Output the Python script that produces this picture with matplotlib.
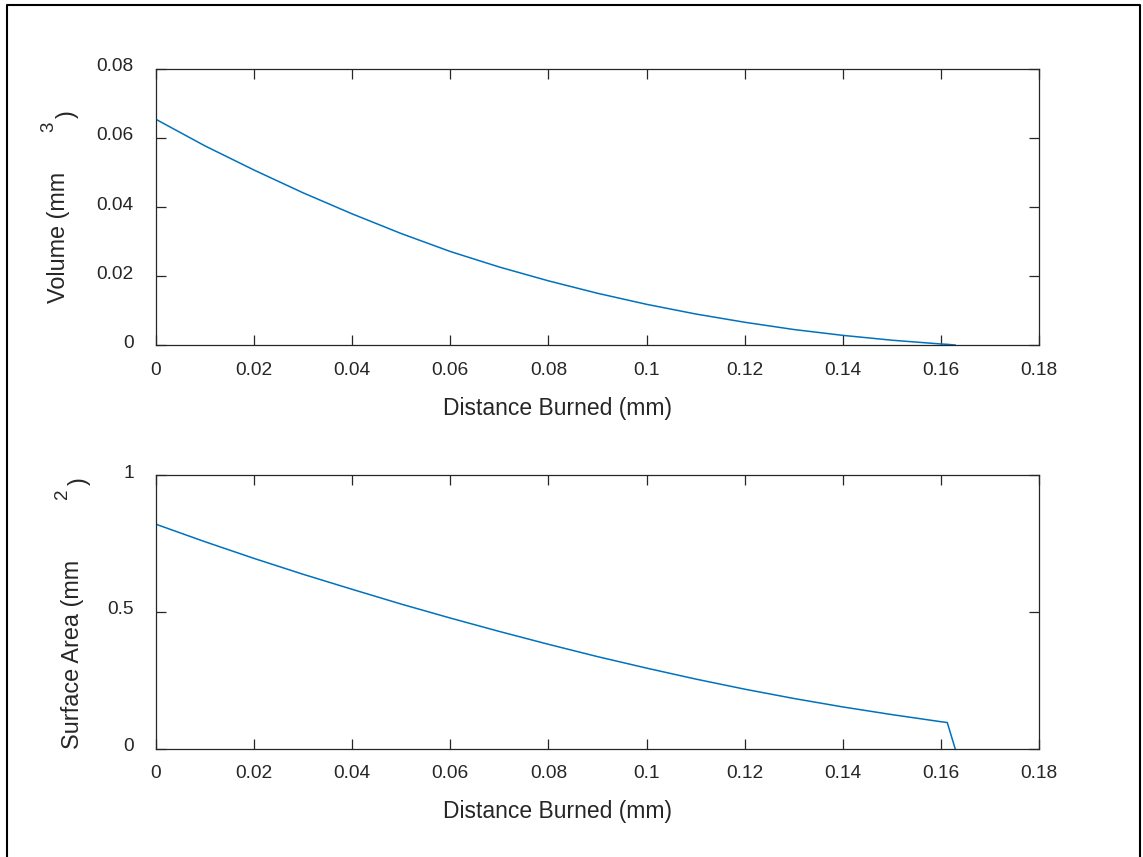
import matplotlib
matplotlib.use("Agg")
from matplotlib import pyplot as plt
from matplotlib.lines import Line2D
from matplotlib.transforms import ScaledTranslation

W, H = 1143, 857
TEXT_COLOR = "#262626"
LINE_COLOR = "#0072BD"

distance = [0.0, 0.01, 0.02, 0.03, 0.04, 0.05, 0.06, 0.07, 0.08, 0.09,
            0.10, 0.11, 0.12, 0.13, 0.14, 0.15, 0.16, 0.1613, 0.1629]
volume = [0.0654, 0.0577, 0.0507, 0.0441, 0.0380, 0.0323, 0.0271, 0.0226, 0.0186, 0.0150,
          0.0118, 0.0090, 0.0066, 0.0045, 0.0028, 0.0014, 0.0003, 0.0002, 0.0]
surface = [0.820, 0.756, 0.695, 0.637, 0.582, 0.528, 0.477, 0.428, 0.381, 0.336,
           0.294, 0.254, 0.217, 0.183, 0.152, 0.124, 0.098, 0.095, 0.0]

x_ticks = [0, 0.02, 0.04, 0.06, 0.08, 0.1, 0.12, 0.14, 0.16, 0.18]
x_tick_labels = ["0", "0.02", "0.04", "0.06", "0.08", "0.1", "0.12", "0.14", "0.16", "0.18"]
vol_ticks = [0, 0.02, 0.04, 0.06, 0.08]
vol_tick_labels = ["0", "0.02", "0.04", "0.06", "0.08"]
area_ticks = [0, 0.5, 1]
area_tick_labels = ["0", "0.5", "1"]

plt.rcParams["font.family"] = ["Liberation Sans", "DejaVu Sans"]


def px(x, y):
    # pixel position (from top-left) -> figure fraction
    return x / W, 1 - y / H


def styleAxes(ax, yticks, ylabels, ylim):
    ax.set_xlim(0, 0.18)
    ax.set_ylim(*ylim)
    ax.set_xticks(x_ticks, x_tick_labels)
    ax.set_yticks(yticks, ylabels)
    ax.tick_params(direction="in", length=7.5, width=0.9, color=TEXT_COLOR,
                   labelcolor=TEXT_COLOR, labelsize=13.8,
                   top=True, right=True)
    ax.tick_params(axis="x", pad=12)
    ax.tick_params(axis="y", pad=16)
    for sp in ax.spines.values():
        sp.set_color(TEXT_COLOR)
        sp.set_linewidth(0.9)
    shift = ScaledTranslation(0, 0.04, fig.dpi_scale_trans)
    for lab in ax.get_yticklabels():
        lab.set_transform(lab.get_transform() + shift)
    ax.set_xlabel("Distance Burned (mm)", fontsize=16.5, color=TEXT_COLOR)
    ax.xaxis.set_label_coords(0.455, -0.188)


fig = plt.figure(figsize=(W / 100, H / 100), dpi=100)
ax1 = fig.add_axes([0.1365, 0.5974, 0.7725, 0.3221])
ax2 = fig.add_axes([0.1365, 0.1266, 0.7725, 0.3191])

ax1.plot(distance, volume, "-", color=LINE_COLOR, linewidth=1.1)
ax2.plot(distance, surface, "-", color=LINE_COLOR, linewidth=1.1)

styleAxes(ax1, vol_ticks, vol_tick_labels, (0, 0.08))
styleAxes(ax2, area_ticks, area_tick_labels, (0, 1))

# y labels with the detached superscript, as in the original
pieces = [
    ("Volume (mm", 59, 237.5, 16.8),
    ("3", 49, 127, 13.5),
    (")", 67, 114, 16.8),
    ("Surface Area (mm", 72.5, 654, 16.8),
    ("2", 62, 494, 13.5),
    (")", 79, 481, 16.8),
]
for txt, x, y, size in pieces:
    fx, fy = px(x, y)
    fig.text(fx, fy, txt, rotation=90, ha="center", va="center",
             fontsize=size, color=TEXT_COLOR)

# figure frame
lx, ty = px(7, 5)
rx, _ = px(1140, 5)
fig.add_artist(Line2D([lx, lx, rx, rx], [-0.01, ty, ty, -0.01],
                      transform=fig.transFigure, color="black", linewidth=1.5))

fig.savefig("out.png", dpi=100)
